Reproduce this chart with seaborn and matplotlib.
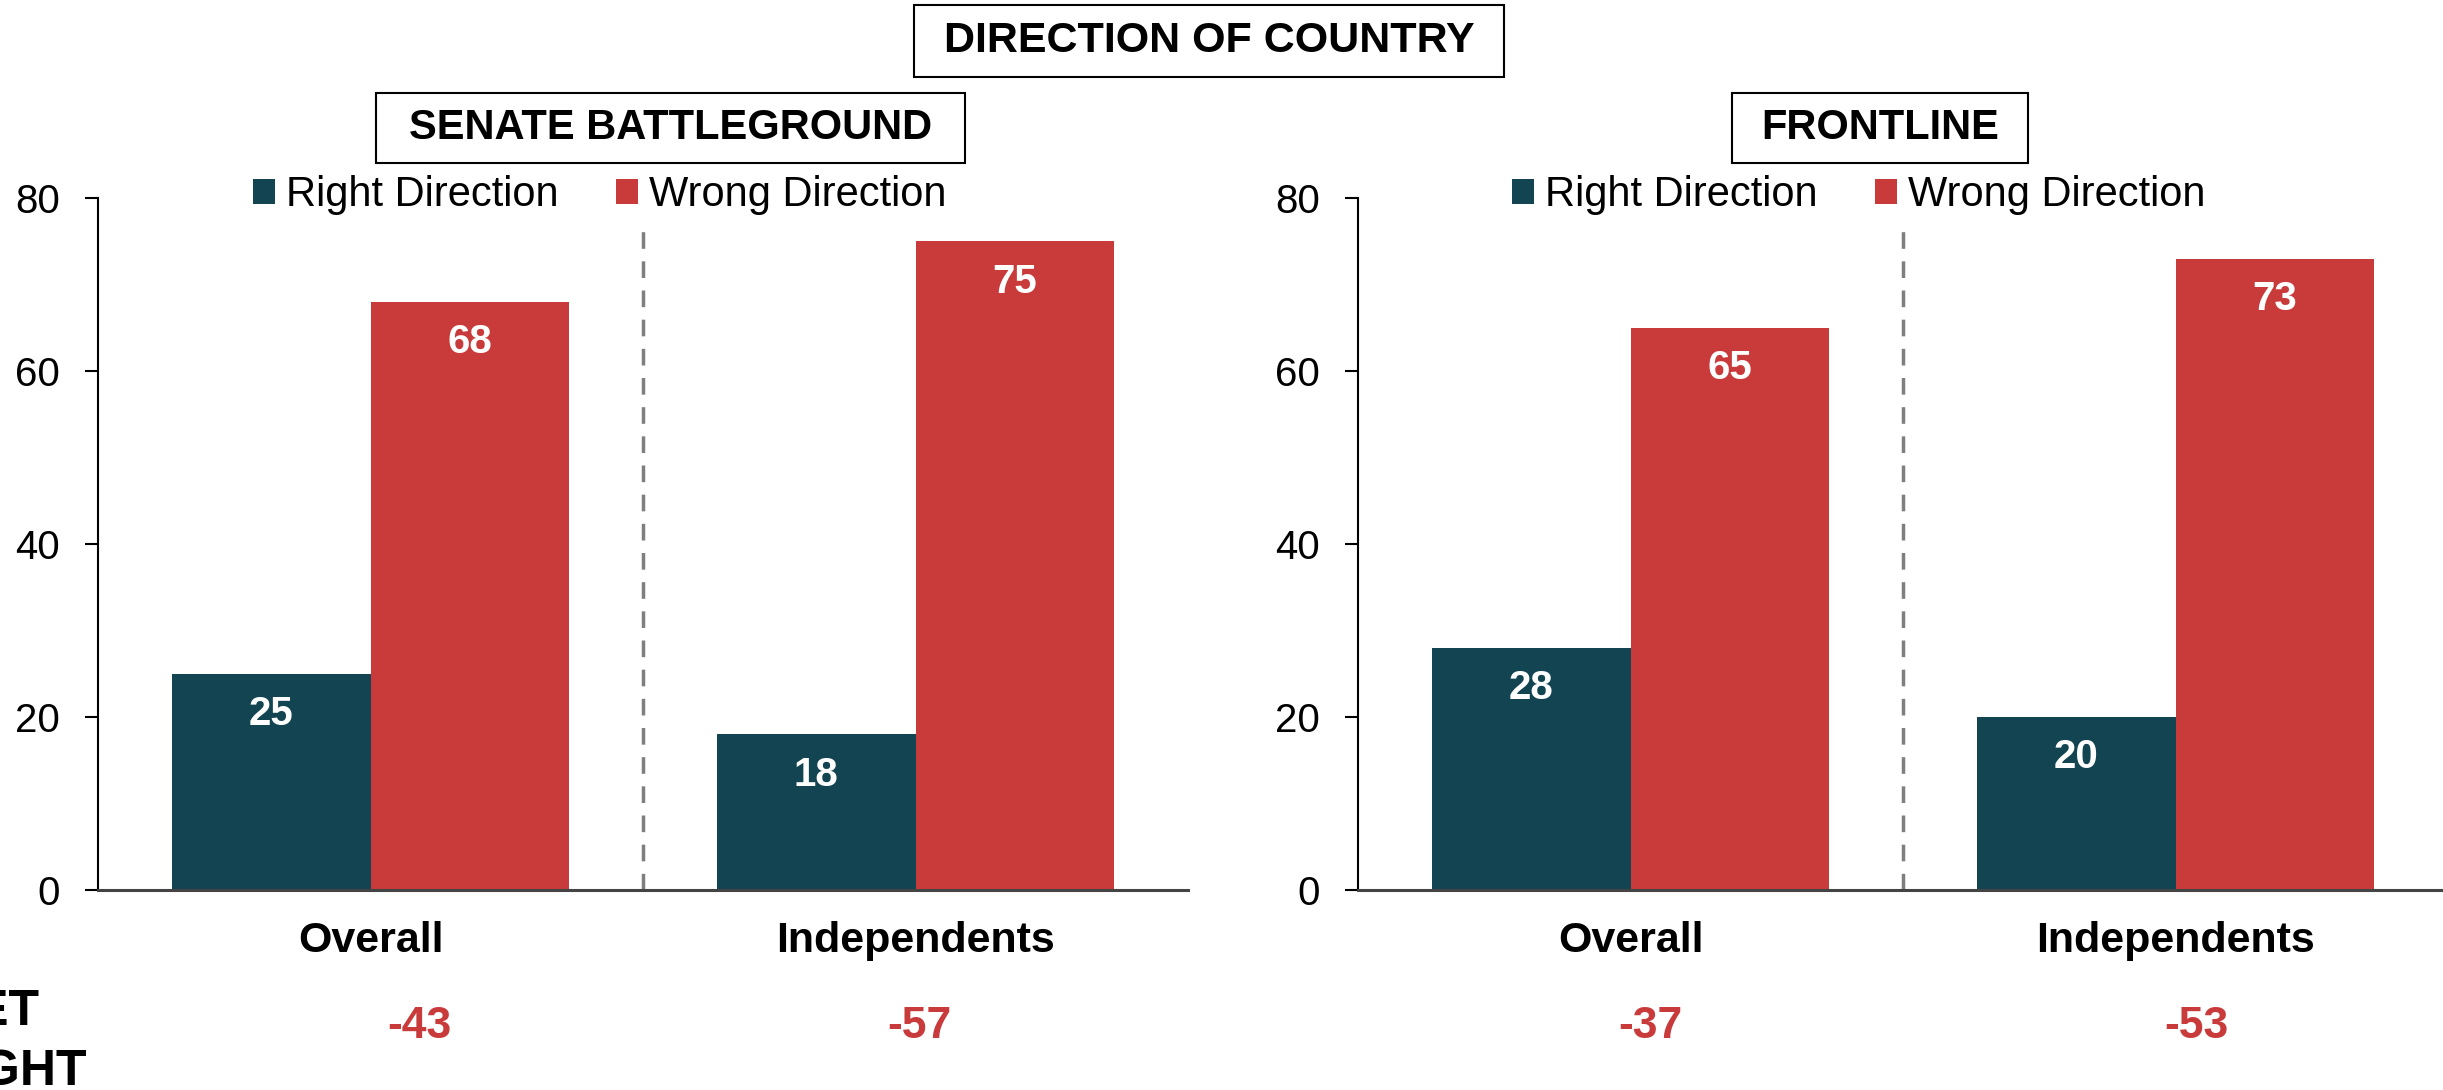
import numpy as np
import pandas as pd
import matplotlib
matplotlib.use("Agg")
import matplotlib.pyplot as plt
import matplotlib.transforms as mtransforms
from matplotlib.patches import Rectangle
import seaborn as sns

# data
groups = ["Overall", "Independents"]
directions = ["Right Direction", "Wrong Direction"]
panels = ["SENATE BATTLEGROUND", "FRONTLINE"]
right_vals = {"SENATE BATTLEGROUND": [25, 18], "FRONTLINE": [28, 20]}
wrong_vals = {"SENATE BATTLEGROUND": [68, 75], "FRONTLINE": [65, 73]}
net_vals = {"SENATE BATTLEGROUND": [-43, -57], "FRONTLINE": [-37, -53]}
y_ticks = [0, 20, 40, 60, 80]

BLUE = "#134452"
RED = "#C93B3B"
GREY = "#7f7f7f"

sns.set_style("white")
plt.rcParams["font.family"] = ["Liberation Sans", "DejaVu Sans"]
plt.rcParams.update({"text.color": "black", "axes.labelcolor": "black",
                     "xtick.color": "black", "ytick.color": "black"})

W, H = 2443, 1090
fig = plt.figure(figsize=(W / 100, H / 100), dpi=100)

# axes placement (pixels -> figure fraction)
ax_w = 1090 / W
ax_b = 1 - 890 / H
ax_h = (890 - 198) / H
ax_lefts = [98 / W, 1358 / W]
legend_x = [253 / W, 1512 / W]
net_offsets = [[35, 3], [14, 15]]  # points, label nudges as in the reference
sub_boxes = [(376, 93, 965, 163), (1732, 93, 2028, 163)]

for k, panel in enumerate(panels):
    ax = fig.add_axes([ax_lefts[k], ax_b, ax_w, ax_h])
    df = pd.DataFrame({
        "group": groups * 2,
        "direction": [directions[0]] * 2 + [directions[1]] * 2,
        "value": right_vals[panel] + wrong_vals[panel],
    })
    sns.barplot(data=df, x="group", y="value", hue="direction",
                order=groups, hue_order=directions, palette=[BLUE, RED],
                width=0.728, linewidth=0, saturation=1, ax=ax)

    ax.set_xlim(-0.5, len(groups) - 0.5)
    ax.set_ylim(0, 80)
    ax.set_yticks(y_ticks)
    ax.set_xlabel("")
    ax.set_ylabel("")
    sns.despine(ax=ax)
    ax.spines["left"].set_color("black")
    ax.spines["left"].set_linewidth(1.5)
    ax.spines["bottom"].set_color("#444444")
    ax.spines["bottom"].set_linewidth(2.2)
    ax.tick_params(axis="y", direction="out", length=9.5, width=1.5,
                   color="black", pad=18, labelsize=29, left=True)
    ax.tick_params(axis="x", length=0, pad=22, labelsize=31)
    for lab in ax.get_xticklabels():
        lab.set_fontweight("bold")

    # value labels inside bars
    for cont in ax.containers:
        for bar in cont:
            h = bar.get_height()
            ax.annotate(f"{h:.0f}", (bar.get_x() + bar.get_width() / 2, h),
                        xytext=(0, -29), textcoords="offset points",
                        ha="center", va="center", color="white",
                        fontsize=29, fontweight="bold")

    # dashed separator between the groups
    ax.axvline((len(groups) - 1) / 2, ymin=0, ymax=76.5 / 80, color=GREY,
               lw=2.5, dashes=(4.8, 3.6))

    # legend
    handles, labels = ax.get_legend_handles_labels()
    if ax.get_legend() is not None:
        ax.get_legend().remove()
    fig.legend(handles, labels, loc="center left",
               bbox_to_anchor=(legend_x[k], 1 - 195 / H), ncol=2,
               frameon=False, fontsize=30, handlelength=0.53,
               handleheight=0.53, handletextpad=0.26, columnspacing=1.37,
               borderpad=0, borderaxespad=0)

    # net values under the categories
    trans = mtransforms.blended_transform_factory(ax.transData, fig.transFigure)
    for i, v in enumerate(net_vals[panel]):
        ax.annotate(f"{v}", (i, 1 - 1027 / H), xycoords=trans,
                    xytext=(net_offsets[k][i], 0), textcoords="offset points",
                    ha="center", va="center", color=RED, fontsize=32,
                    fontweight="bold", annotation_clip=False)

    # panel subtitle box
    x0, y0, x1, y1 = sub_boxes[k]
    fig.patches.append(Rectangle((x0 / W, 1 - y1 / H), (x1 - x0) / W,
                                 (y1 - y0) / H, transform=fig.transFigure,
                                 fill=False, edgecolor="black", lw=1.5))
    fig.text((x0 + x1) / 2 / W, 1 - (y0 + y1) / 2 / H, panel, ha="center",
             va="center", fontsize=30, fontweight="bold")

# main title box
tx0, ty0, tx1, ty1 = 914, 5, 1504, 77
fig.patches.append(Rectangle((tx0 / W, 1 - ty1 / H), (tx1 - tx0) / W,
                             (ty1 - ty0) / H, transform=fig.transFigure,
                             fill=False, edgecolor="black", lw=1.5))
fig.text((tx0 + tx1) / 2 / W, 1 - (ty0 + ty1) / 2 / H, "DIRECTION OF COUNTRY",
         ha="center", va="center", fontsize=31, fontweight="bold")

# row label, partly cut off at the left edge like the reference
fig.text(40 / W, 1 - 1012 / H, "NET", ha="right", va="center",
         fontsize=36, fontweight="bold")
fig.text(87 / W, 1 - 1072 / H, "RIGHT", ha="right", va="center",
         fontsize=36, fontweight="bold")

fig.savefig("out.png", dpi=100)
